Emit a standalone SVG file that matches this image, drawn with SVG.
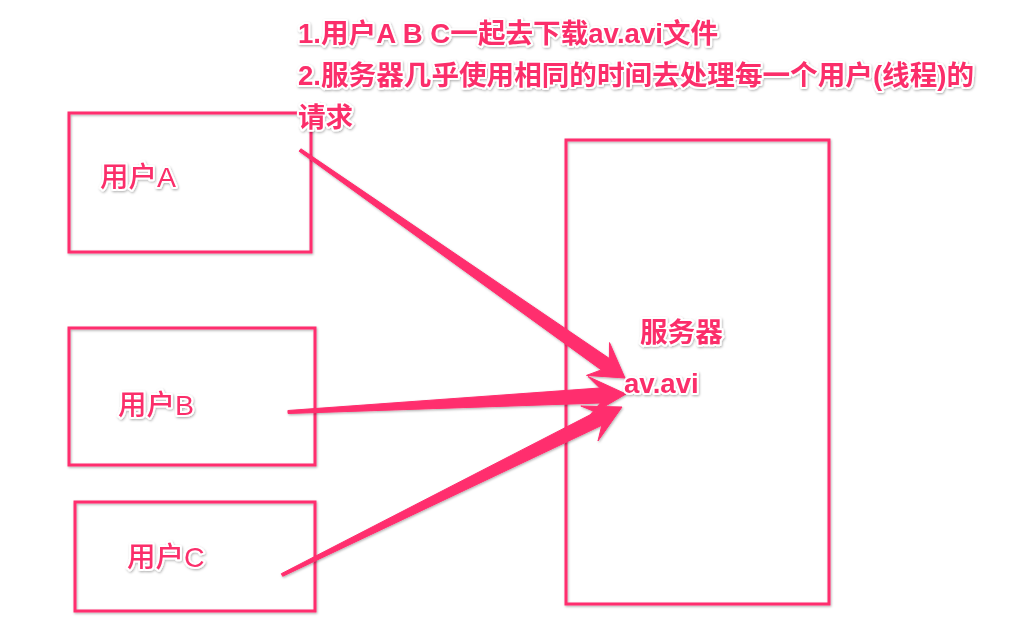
<svg xmlns="http://www.w3.org/2000/svg" width="1032" height="618" viewBox="0 0 1032 618">
  <defs>
    <filter id="sh" x="-10%" y="-10%" width="120%" height="130%">
      <feDropShadow dx="0.8" dy="1.2" stdDeviation="1" flood-color="#000" flood-opacity="0.3"/>
    </filter>
  </defs>
  <style>
    .box { fill: none; stroke: #ff2e6e; stroke-width: 3; }
    .arrow { fill: #ff2e6e; stroke: #ff2e6e; stroke-width: 1; stroke-linejoin: round; }
    .t { font-family: "Liberation Sans", "Noto Sans CJK SC", sans-serif; font-size: 27.6px; fill: #fb2d6a; stroke: #fff; stroke-width: 4; stroke-linejoin: round; paint-order: stroke; }
    .b { font-weight: bold; }
    .m { font-weight: 500; font-size: 28.5px; }
  </style>
  <rect width="1032" height="618" fill="#fff"/>

  <g id="userA" filter="url(#sh)">
    <rect class="box" x="69" y="113" width="242" height="139"/>
  </g>
  <g id="userB" filter="url(#sh)">
    <rect class="box" x="69" y="328" width="246" height="137"/>
  </g>
  <g id="userC" filter="url(#sh)">
    <rect class="box" x="75" y="502" width="240" height="109"/>
  </g>
  <g id="server" filter="url(#sh)">
    <rect class="box" x="566" y="140" width="263" height="464"/>
  </g>

  <g id="connectors" filter="url(#sh)">
    <polygon class="arrow" points="299.1,151.2 601.3,369.9 586.5,375.4 625,378 609.5,342.6 609.4,358.5 300.9,148.8"/>
    <polygon class="arrow" points="288.1,413.5 600.4,403 590,415 626,394 588,376.5 599.7,388 287.9,410.5"/>
    <polygon class="arrow" points="282.7,576.3 601.8,425.3 598,441 622,407 580.8,406 595.6,412 281.3,573.7"/>
  </g>

  <g id="labels" filter="url(#sh)">
    <text class="t b" x="298" y="43">1.用户A B C一起去下载av.avi文件</text>
    <text class="t b" x="298" y="85">2.服务器几乎使用相同的时间去处理每一个用户(线程)的</text>
    <text class="t b" x="298" y="127">请求</text>
    <text class="t m" x="100" y="187">用户A</text>
    <text class="t m" x="118" y="415">用户B</text>
    <text class="t m" x="127" y="567">用户C</text>
    <text class="t b" x="640" y="342">服务器</text>
    <text class="t b" x="624" y="393">av.avi</text>
  </g>
</svg>
